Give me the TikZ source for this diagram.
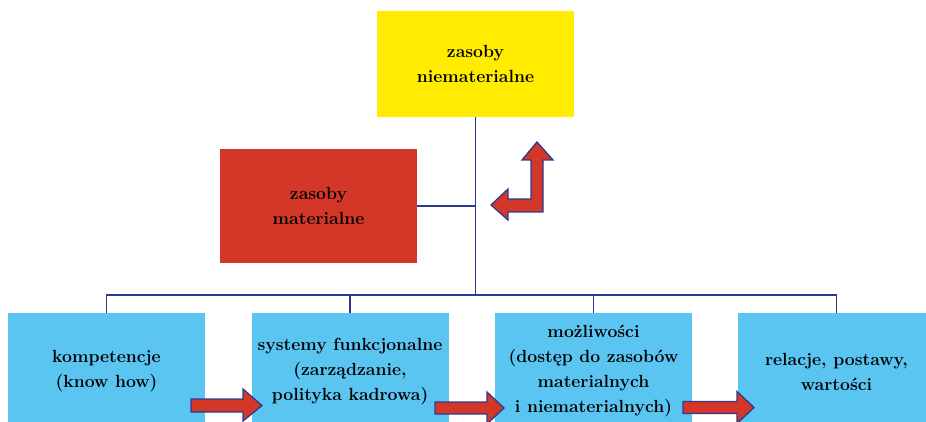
\documentclass[tikz,border=0pt]{standalone}
\usepackage{tikz}
\usetikzlibrary{positioning,calc}
\definecolor{zyellow}{HTML}{FFEC00}
\definecolor{zred}{HTML}{D33727}
\definecolor{zblue}{HTML}{5BC5F1}
\definecolor{zline}{HTML}{2F3A8F}

\tikzset{
  box/.style={rectangle, inner sep=0pt, minimum width=197pt, align=center, font=\fontsize{17.6}{25}\selectfont\bfseries},
  link/.style={draw=zline, line width=1.6pt},
  blockarrow/.style={draw=zline, fill=zred, line width=1.3pt, line join=miter},
}

\begin{document}
\begin{tikzpicture}[x=1pt, y=-1pt]
    \useasboundingbox (0,0) rectangle (926,422);
    \clip (0,0) rectangle (926,422);

    % top: resources
    \node[box, fill=zyellow, minimum height=106pt] (niem) at (475.5,64) {zasoby\\niematerialne};
    \node[box, fill=zred, minimum height=114pt] (mat) at (318.5,206) {zasoby\\materialne};

    % bottom row
    \node[box, fill=zblue, minimum height=117pt] (komp) at (106.5,371.5) {kompetencje\\(know how)};
    \node[box, fill=zblue, minimum height=117pt] (sys) at (350,371.5) {systemy funkcjonalne\\(zarządzanie,\\polityka kadrowa)};
    \node[box, fill=zblue, minimum height=117pt] (mozl) at (593.5,371.5) {możliwości\\(dostęp do zasobów\\materialnych\\i niematerialnych)};
    \node[box, fill=zblue, minimum height=117pt] (rel) at (836.5,371.5) {relacje, postawy,\\wartości};

    % tree lines
    \coordinate (bus) at (476,295);
    \draw[link] (niem.south) -- (niem.south |- bus);
    \draw[link] (mat.east) -- (mat.east -| niem.south);
    \draw[link] (komp.north) |- (bus) -| (rel.north);
    \draw[link] (sys.north) -- (sys.north |- bus);
    \draw[link] (mozl.north) -- (mozl.north |- bus);

    % block arrows
    \draw[blockarrow] (537,142) -- (553,160) -- (543,160) -- (543,212) -- (508,212) -- (508,220) -- (491,205) -- (508,189) -- (508,199) -- (531,199) -- (531,160) -- (522,160) -- cycle;
    \draw[blockarrow] (191,399) -- (243,399) -- (243,389) -- (262,405.5) -- (243,421) -- (243,412) -- (191,412) -- cycle;
    \draw[blockarrow] (435,402) -- (487,402) -- (487,392) -- (504,408) -- (487,424) -- (487,414) -- (435,414) -- cycle;
    \draw[blockarrow] (683,401.5) -- (737,401.5) -- (737,391.5) -- (754,407.5) -- (737,423.5) -- (737,413.5) -- (683,413.5) -- cycle;
\end{tikzpicture}
\end{document}
